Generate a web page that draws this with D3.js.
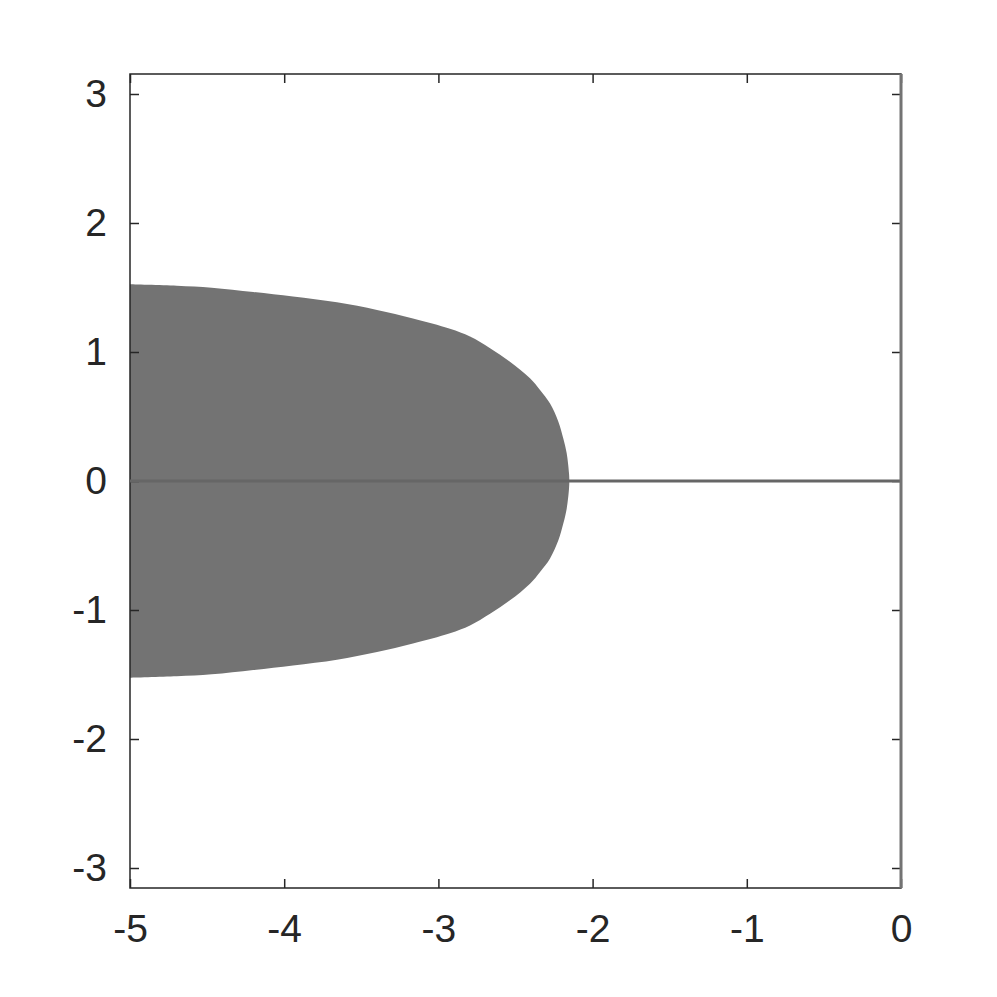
<!DOCTYPE html>
<html>
<head>
<meta charset="utf-8">
<script src="https://cdn.jsdelivr.net/npm/d3@7"></script>
<style>
  html, body { margin: 0; padding: 0; background: #fff; }
  svg { display: block; }
  .tick text { font-family: "Liberation Sans", Arial, sans-serif; font-size: 39px; fill: #262626; }
</style>
</head>
<body>
<svg id="chart" width="997" height="997"></svg>
<script>
// upper edge of the shaded region (lower edge is its mirror image)
const edgeX = [-5, -4.697, -4.47, -4.2, -3.943, -3.658, -3.398, -3.165, -2.925, -2.795, -2.665,
               -2.536, -2.406, -2.341, -2.276, -2.222, -2.19, -2.168, -2.153, -2.151];
const edgeY = [1.525, 1.514, 1.499, 1.465, 1.43, 1.385, 1.326, 1.26, 1.18, 1.12, 1.03,
               0.925, 0.796, 0.705, 0.6, 0.46, 0.33, 0.215, 0.06, 0];
const xTicks = [-5, -4, -3, -2, -1, 0];
const yTicks = [-3, -2, -1, 0, 1, 2, 3];
const xDomain = [-5, 0];
const yDomain = [-3.155, 3.155];

const plotLeft = 130, plotRight = 901, plotTop = 74, plotBottom = 888;
const svg = d3.select("#chart");

const x = d3.scaleLinear().domain(xDomain).range([plotLeft, plotRight]);
const y = d3.scaleLinear().domain(yDomain).range([plotBottom, plotTop]);

const upper = edgeX.map((v, i) => [v, edgeY[i]]);
const lower = upper.slice(0, -1).reverse().map(([a, b]) => [a, -b]);
const outline = upper.concat(lower);

svg.append("path")
  .datum(outline)
  .attr("fill", "#737373")
  .attr("d", d3.line().curve(d3.curveCatmullRom).x(d => x(d[0])).y(d => y(d[1])));

const tickLen = 9;
const axisColor = "#262626";
const fmt = d => String(d); // plain hyphen minus, as in the original

function styleAxis(g) {
  g.select(".domain").remove();
  g.selectAll(".tick line").attr("stroke", axisColor).attr("stroke-width", 1.5);
}

// bottom and top
svg.append("g").attr("transform", `translate(0,${plotBottom})`)
  .call(d3.axisBottom(x).tickValues(xTicks).tickSize(-tickLen).tickPadding(26).tickFormat(fmt))
  .call(styleAxis);
svg.append("g").attr("transform", `translate(0,${plotTop})`)
  .call(d3.axisTop(x).tickValues(xTicks).tickSize(-tickLen).tickFormat(""))
  .call(styleAxis);

// left and right
svg.append("g").attr("transform", `translate(${plotLeft},0)`)
  .call(d3.axisLeft(y).tickValues(yTicks).tickSize(-tickLen).tickPadding(23).tickFormat(fmt))
  .call(styleAxis);
svg.append("g").attr("transform", `translate(${plotRight},0)`)
  .call(d3.axisRight(y).tickValues(yTicks).tickSize(-tickLen).tickFormat(""))
  .call(styleAxis);

// frame
svg.append("rect")
  .attr("x", plotLeft).attr("y", plotTop)
  .attr("width", plotRight - plotLeft).attr("height", plotBottom - plotTop)
  .attr("fill", "none").attr("stroke", axisColor).attr("stroke-width", 1.5);

// zero lines
svg.append("line")
  .attr("x1", x(-5)).attr("x2", x(0)).attr("y1", y(0)).attr("y2", y(0))
  .attr("stroke", "#666").attr("stroke-width", 3);
svg.append("line")
  .attr("x1", x(0)).attr("x2", x(0)).attr("y1", plotTop).attr("y2", plotBottom)
  .attr("stroke", "#737373").attr("stroke-width", 3);
</script>
</body>
</html>
